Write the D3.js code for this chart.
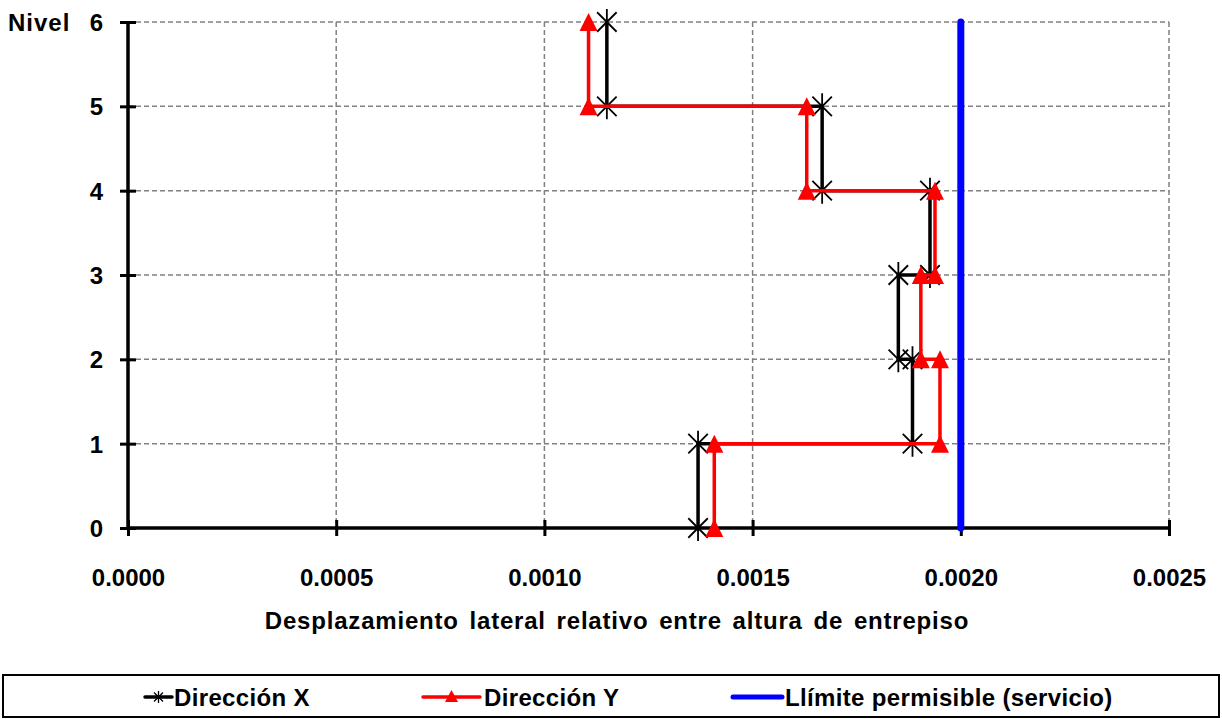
<!DOCTYPE html>
<html>
<head>
<meta charset="utf-8">
<script src="https://cdn.jsdelivr.net/npm/d3@7"></script>
<style>
  html, body { margin: 0; padding: 0; background: #fff; }
  svg { display: block; font-family: "Liberation Sans", Arial, sans-serif; font-weight: bold; }
</style>
</head>
<body>
<svg id="chart" width="1222" height="719"></svg>
<script>
// ---- Data ----
const levels = [0, 1, 2, 3, 4, 5, 6];
const stories = [1, 2, 3, 4, 5, 6];
const driftX = [0.001369, 0.001884, 0.001850, 0.001926, 0.001667, 0.001150];
const driftY = [0.001408, 0.001950, 0.001904, 0.001938, 0.001630, 0.001106];
const limitValue = 0.002;
const xTicks = [0, 0.0005, 0.001, 0.0015, 0.002, 0.0025];
const seriesNames = ["Dirección X", "Dirección Y", "Llímite permisible (servicio)"];
const xTitle = "Desplazamiento lateral relativo entre altura de entrepiso";
const yTitle = "Nivel";

(function () {
// ---- Layout ----
const svg = d3.select("#chart");
const pL = 128, pR = 1169, pT = 22, pB = 528;
const x = d3.scaleLinear().domain([0, 0.0025]).range([pL, pR]);
const y = d3.scaleLinear().domain([0, 6]).range([pB, pT]);
const FF = "Liberation Sans, Arial, sans-serif";

function stepPoints(drifts) {
  const pts = [];
  stories.forEach((s, i) => {
    pts.push([drifts[i], s - 1]);
    pts.push([drifts[i], s]);
  });
  return pts;
}

// ---- Grid ----
const grid = svg.append("g");
grid.selectAll("line.h").data(levels.slice(1)).join("line").attr("class", "h")
  .attr("x1", pL).attr("x2", pR)
  .attr("y1", d => y(d)).attr("y2", d => y(d))
  .attr("stroke", "#808080").attr("stroke-width", 1.5).attr("stroke-dasharray", "5,3");
grid.selectAll("line.v").data(xTicks.slice(1)).join("line").attr("class", "v")
  .attr("x1", d => x(d)).attr("x2", d => x(d))
  .attr("y1", pT).attr("y2", pB)
  .attr("stroke", "#808080").attr("stroke-width", 1.5).attr("stroke-dasharray", "5,3");

// ---- Axes ----
const xAxis = d3.axisBottom(x).tickValues(xTicks).tickSize(0).tickFormat(d3.format(".4f"));
const gx = svg.append("g").attr("transform", `translate(0,${pB})`).call(xAxis);
gx.select(".domain").remove();
gx.selectAll("text").attr("dy", 0).attr("y", 58).attr("font-size", 24).attr("font-weight", "bold")
  .attr("font-family", FF).attr("fill", "#000");
gx.selectAll(".tick").append("line").attr("y1", -8).attr("y2", 8)
  .attr("stroke", "#000").attr("stroke-width", 3);

const yAxis = d3.axisLeft(y).tickValues(levels).tickSize(0).tickFormat(d3.format("d"));
const gy = svg.append("g").attr("transform", `translate(${pL},0)`).call(yAxis);
gy.select(".domain").remove();
gy.selectAll("text").attr("x", -25).attr("dy", "0.36em").attr("font-size", 24).attr("font-weight", "bold")
  .attr("font-family", FF).attr("fill", "#000");
gy.selectAll(".tick").append("line").attr("x1", -8).attr("x2", 8)
  .attr("stroke", "#000").attr("stroke-width", 3);

svg.append("line").attr("x1", pL).attr("x2", pL).attr("y1", pT).attr("y2", pB)
  .attr("stroke", "#000").attr("stroke-width", 3.5);
svg.append("line").attr("x1", pL).attr("x2", pR).attr("y1", pB).attr("y2", pB)
  .attr("stroke", "#000").attr("stroke-width", 3.5);

svg.append("text").attr("x", 8).attr("y", y(6)).attr("dy", "0.36em")
  .attr("font-size", 24).attr("letter-spacing", 1).attr("fill", "#000").text(yTitle);

svg.append("text").attr("x", 617).attr("y", 620).attr("dy", "0.36em")
  .attr("text-anchor", "middle").attr("font-size", 24).attr("letter-spacing", 0.8)
  .attr("word-spacing", 3.3).attr("fill", "#000").text(xTitle);

// ---- Series ----
const line = d3.line().x(d => x(d[0])).y(d => y(d[1]));
const ptsX = stepPoints(driftX);
const ptsY = stepPoints(driftY);

function star(g, cx, cy, r, sw) {
  const a = r * 0.75;
  g.append("path")
    .attr("d", `M${cx - a},${cy - a}L${cx + a},${cy + a}M${cx - a},${cy + a}L${cx + a},${cy - a}M${cx},${cy - r}L${cx},${cy + r}`)
    .attr("stroke", "#000").attr("stroke-width", sw).attr("fill", "none");
}
function tri(g, cx, cy, w, h) {
  g.append("path")
    .attr("d", `M${cx},${cy - h / 2}L${cx + w / 2},${cy + h / 2}L${cx - w / 2},${cy + h / 2}Z`)
    .attr("fill", "#ff0000");
}

const gBlack = svg.append("g");
gBlack.append("path").datum(ptsX).attr("d", line).attr("fill", "none")
  .attr("stroke", "#000").attr("stroke-width", 3.5);
ptsX.forEach(p => star(gBlack, x(p[0]), y(p[1]), 13, 1.8));

const gRed = svg.append("g");
gRed.append("path").datum(ptsY).attr("d", line).attr("fill", "none")
  .attr("stroke", "#ff0000").attr("stroke-width", 3.5);
ptsY.forEach(p => tri(gRed, x(p[0]), y(p[1]), 18, 18));

svg.append("line").attr("x1", x(limitValue)).attr("x2", x(limitValue))
  .attr("y1", y(6)).attr("y2", y(0))
  .attr("stroke", "#0000ff").attr("stroke-width", 7).attr("stroke-linecap", "round");

// ---- Legend ----
const lg = svg.append("g");
lg.append("rect").attr("x", 3).attr("y", 675).attr("width", 1216).attr("height", 42)
  .attr("fill", "#fff").attr("stroke", "#000").attr("stroke-width", 2);
const legY = 697;
const legItems = [
  { name: seriesNames[0], color: "#000", x1: 145, x2: 172, tx: 174, marker: "star" },
  { name: seriesNames[1], color: "#ff0000", x1: 423, x2: 480, tx: 484, marker: "tri" },
  { name: seriesNames[2], color: "#0000ff", x1: 733, x2: 782, tx: 785, marker: null }
];
legItems.forEach(it => {
  lg.append("line").attr("x1", it.x1).attr("x2", it.x2).attr("y1", legY).attr("y2", legY)
    .attr("stroke", it.color).attr("stroke-width", it.marker === null ? 5 : 3.5).attr("stroke-linecap", "round");
  const cx = (it.x1 + it.x2) / 2;
  if (it.marker === "star") star(lg, cx, legY, 6, 1.3);
  if (it.marker === "tri") tri(lg, cx, legY - 1, 13, 12);
  lg.append("text").attr("x", it.tx).attr("y", legY).attr("dy", "0.36em")
    .attr("font-size", 24).attr("letter-spacing", 0.35).attr("fill", "#000").text(it.name);
});
})();
</script>
</body>
</html>
